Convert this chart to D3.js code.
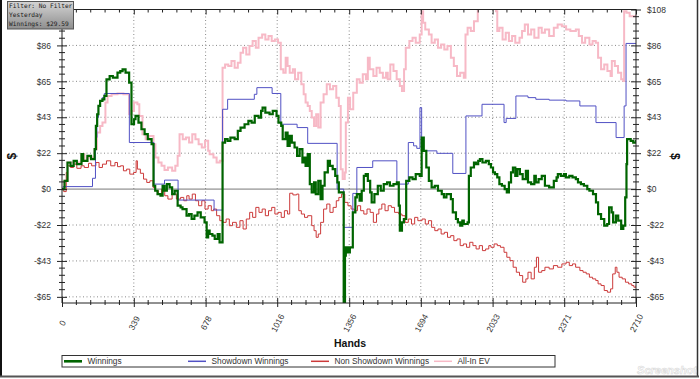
<!DOCTYPE html>
<html><head><meta charset="utf-8">
<script src="https://cdn.jsdelivr.net/npm/d3@7"></script>
<style>body{margin:0;background:#fff}svg{display:block}</style>
</head><body>
<svg id="c" width="700" height="379"></svg>
<script>
// ---- data ----
const xTickValues = [0,339,678,1016,1356,1694,2033,2371,2710];
const xTickLabels = ["0","339","678","1016","1356","1694","2033","2371","2710"];
const yTickValues = [-64.8,-43.2,-21.6,0,21.6,43.2,64.8,86.4,108];
const yTickLabels = ["-$65","-$43","-$22","$0","$22","$43","$65","$86","$108"];
const seriesNames = ["Winnings","Showdown Winnings","Non Showdown Winnings","All-In EV"];
const infoLines = ["Filter: No Filter","Yesterday","Winnings: $29.59"];

const winnings = [[0,0],[12,5],[26,16],[40,14],[55,17],[70,15],[92,21],[100,17],[120,20],[137,18],[154,24],[160,38],[166,45],[172,50],[180,53],[191,54],[200,56],[210,66],[225,68],[240,67],[262,70],[275,71],[286,72],[300,70],[317,64],[328,39],[340,42],[347,44],[361,40],[375,36],[390,33],[405,30],[423,27],[432,2],[440,-1],[451,-3],[465,-4],[475,2],[484,-1],[495,3],[508,1],[520,-3],[532,-1],[546,-10],[560,-11],[569,-12],[588,-16],[600,-15],[612,-18],[625,-16],[640,-14],[655,-17],[673,-20],[683,-29],[690,-25],[697,-27],[710,-28],[721,-30],[735,-27],[744,-32],[758,28],[770,30],[782,29],[795,31],[815,30],[830,35],[843,37],[862,39],[880,41],[895,40],[910,44],[928,43],[940,47],[947,49],[960,46],[980,45],[995,47],[1013,44],[1022,40],[1035,38],[1042,30],[1056,34],[1065,26],[1075,32],[1085,28],[1098,25],[1110,20],[1122,24],[1135,16],[1141,19],[1150,14],[1160,21],[1170,3],[1179,-2],[1190,4],[1198,-3],[1210,5],[1221,-6],[1230,2],[1240,10],[1255,17],[1265,14],[1278,12],[1290,8],[1300,4],[1307,-2],[1326,-2],[1330,-68],[1336,-40],[1340,-35],[1350,-38],[1359,-35],[1373,-14],[1385,-5],[1392,-3],[1405,-7],[1415,-1],[1425,8],[1434,9],[1444,5],[1455,-2],[1462,-8],[1475,-3],[1491,2],[1505,-1],[1519,3],[1535,4],[1548,2],[1565,3],[1581,4],[1590,-10],[1595,-25],[1605,-20],[1614,-18],[1625,5],[1640,7],[1655,6],[1670,9],[1689,8],[1698,31],[1708,23],[1720,13],[1732,5],[1745,1],[1760,2],[1775,-1],[1793,-3],[1803,-5],[1815,-3],[1836,-6],[1845,-14],[1860,-18],[1869,-20],[1880,-22],[1890,-19],[1897,-21],[1915,-20],[1921,8],[1930,13],[1945,16],[1954,15],[1965,17],[1973,18],[1985,16],[2001,17],[2015,15],[2025,13],[2035,10],[2044,9],[2055,7],[2065,3],[2077,2],[2090,0],[2100,-2],[2110,4],[2120,10],[2129,13],[2140,8],[2150,12],[2162,9],[2175,6],[2190,11],[2200,4],[2215,3],[2230,8],[2237,4],[2250,6],[2265,8],[2280,2],[2300,1],[2322,5],[2335,7],[2341,9],[2355,8],[2370,9],[2379,7],[2395,8],[2410,7],[2426,6],[2436,4],[2450,3],[2464,2],[2480,0],[2490,-1],[2507,-3],[2521,-8],[2531,-15],[2545,-18],[2560,-22],[2574,-21],[2583,-11],[2595,-14],[2602,-20],[2615,-16],[2626,-19],[2640,-24],[2650,-22],[2659,-5],[2665,15],[2668,30],[2685,29],[2697,28],[2710,29.59]];

const showdown = [[0,0],[5,1.5],[144,6.5],[158,31],[165,43],[172,50],[180,53],[190,55],[200,57.5],[318,28],[434,3],[484,5.4],[548,-6.6],[718,-12.6],[758,48],[782,54],[908,57],[920,61],[992,57.5],[1033,39],[1110,37],[1160,27.5],[1299,0],[1330,-23],[1373,-2.6],[1392,13],[1467,17],[1581,3],[1635,28],[1660,26],[1675,24.5],[1690,49],[1698,23],[1770,21.5],[1845,9.4],[1907,44],[1983,51],[2087,40],[2097,42.5],[2143,56],[2200,55],[2237,54],[2300,53.5],[2380,53],[2445,50],[2521,40],[2616,31],[2654,50],[2663,87.6],[2710,87.6]];

const nonShowdown = [[0,0],[8,-1.5],[20,10],[26,14],[40,13],[55,15],[70,12.5],[90,14],[105,13],[125,15.5],[140,14],[160,16],[175,13],[191,15],[210,17],[230,14],[250,16],[262,13.5],[276,14],[290,11],[305,12],[320,9],[338,10],[350,17],[356,12],[370,9.5],[385,6],[400,4],[415,5],[430,1],[441,-1],[455,-3],[470,0],[485,-4],[500,-6],[520,-3],[540,-6],[560,-5],[575,-7],[589,-4],[600,-6],[615,-3],[630,-7],[645,-10],[660,-7],[675,-12],[690,-10],[705,-13],[716,-12],[730,-16],[745,-19],[760,-20],[775,-18],[790,-22],[805,-20],[823,-23],[840,-19],[855,-24],[870,-18],[886,-14],[900,-17],[915,-11],[930,-14],[945,-12],[960,-16],[975,-13],[990,-11],[1005,-15],[1020,-14],[1035,-17],[1050,-13],[1065,-15],[1075,-2.5],[1090,-3.5],[1108,-3],[1118,-13],[1130,-15],[1145,-17],[1160,-16],[1179,-22],[1190,-25],[1200,-29],[1210,-27],[1221,-20],[1235,-12],[1250,-9],[1265,-14],[1280,-11],[1295,-7],[1307,-5],[1320,-3],[1335,-8],[1350,-10],[1365,-12],[1380,-13],[1395,-10],[1410,-13],[1425,-15],[1440,-12],[1455,-14],[1470,-20],[1485,-15],[1496,-12],[1510,-9],[1525,-13],[1540,-10],[1555,-11],[1570,-14],[1590,-15],[1605,-16],[1620,-20],[1635,-18],[1650,-21],[1665,-17],[1680,-19],[1700,-18],[1715,-21],[1730,-19],[1745,-23],[1760,-25],[1775,-24],[1790,-27],[1805,-26],[1820,-29],[1835,-28],[1850,-31],[1865,-30],[1880,-34],[1895,-33],[1910,-35],[1925,-32],[1940,-34],[1955,-36],[1970,-34],[1985,-37],[2000,-36],[2015,-34],[2025,-35],[2040,-33],[2055,-34],[2070,-35],[2087,-38],[2100,-41],[2115,-43],[2130,-47],[2145,-50],[2160,-52],[2175,-56],[2190,-54],[2200,-50],[2215,-54],[2230,-47],[2240,-41],[2250,-50],[2265,-49],[2280,-47],[2300,-48],[2320,-46],[2340,-47],[2360,-45],[2380,-44],[2395,-46],[2410,-45],[2425,-47],[2445,-49],[2460,-50],[2475,-51],[2490,-53],[2505,-54],[2520,-55],[2531,-57],[2545,-58],[2560,-61],[2575,-62],[2590,-60],[2600,-51],[2612,-47],[2620,-50],[2630,-53],[2645,-54],[2660,-56],[2675,-57],[2690,-58],[2700,-59],[2710,-58]];

const allInEV = [[0,0],[12,5],[26,16],[92,21],[106,17],[120,19],[154,24],[165,34],[180,38],[191,40],[205,52],[215,56],[234,57],[262,57.5],[290,57],[317,45],[328,47],[340,52],[356,51],[365,44],[380,33],[395,30],[410,32],[432,27],[441,19],[455,16],[470,14],[484,11.5],[500,13],[520,11],[535,14],[546,20],[555,33],[570,30],[585,31],[600,28],[615,33],[630,30],[645,27],[660,25],[675,29],[690,23],[697,21],[715,19],[730,16],[745,17],[758,73],[770,75],[785,74],[800,77],[815,73],[830,76],[843,82],[855,85],[870,81],[885,86],[900,89],[915,85],[928,91],[945,93],[960,90],[975,92],[990,89],[1005,90],[1020,88],[1033,72],[1045,70],[1056,79],[1065,74],[1075,70],[1090,72],[1100,66],[1115,70],[1130,63],[1141,57],[1150,52],[1160,50],[1170,47],[1179,43],[1190,38],[1200,45],[1210,37],[1221,52],[1235,57],[1250,63],[1265,60],[1280,62],[1295,55],[1307,50],[1316,12],[1325,6],[1335,10],[1340,40],[1350,55],[1360,48],[1375,58],[1392,66],[1405,64],[1420,69],[1435,66],[1444,79],[1453,72],[1470,68],[1485,73],[1500,70],[1515,67],[1530,70],[1538,66],[1550,75],[1565,71],[1580,66],[1595,62],[1605,59],[1615,72],[1623,85],[1640,89],[1655,91],[1670,88],[1689,93],[1698,107],[1705,100],[1715,96],[1732,93],[1745,88],[1760,90],[1775,85],[1790,87],[1805,84],[1820,86],[1836,79],[1850,74],[1865,68],[1880,70],[1897,67],[1905,93],[1915,97],[1930,95],[1945,101],[1963,109],[2000,109],[2049,107],[2055,95],[2065,97],[2080,90],[2095,94],[2110,89],[2125,92],[2140,88],[2160,91],[2172,95],[2185,99],[2200,93],[2215,96],[2230,91],[2250,97],[2265,94],[2280,96],[2300,92],[2322,97],[2340,99],[2360,98],[2380,96],[2400,95],[2426,96],[2440,92],[2455,88],[2470,91],[2490,87],[2505,89],[2520,88],[2531,79],[2545,72],[2560,75],[2575,71],[2590,68],[2596,77],[2610,74],[2625,70],[2640,66],[2650,65],[2654,107],[2665,106],[2680,104],[2695,104],[2710,105]];

// ---- layout ----
const svg = d3.select("#c");
const L = 62, R = 636, T = 9.5, B = 303;
const x = d3.scaleLinear().domain([0, 2710]).range([L, R]);
const y = d3.scaleLinear().domain([-68.5, 108]).range([B, T]);
const font = "'Liberation Sans', Arial, sans-serif";

svg.append("rect").attr("width",700).attr("height",379).attr("fill","#fff");

const grid = svg.append("g");
yTickValues.filter(v => v !== 0).forEach(v => {
  grid.append("line").attr("x1",L).attr("x2",R).attr("y1",y(v)).attr("y2",y(v))
    .attr("stroke","#8a8a8a").attr("stroke-width",1).attr("stroke-dasharray","1,2.5");
});
xTickValues.slice(1,-1).forEach(v => {
  grid.append("line").attr("x1",x(v)).attr("x2",x(v)).attr("y1",T).attr("y2",B)
    .attr("stroke","#8a8a8a").attr("stroke-width",1).attr("stroke-dasharray","1,2.5");
});
svg.append("line").attr("x1",L).attr("x2",R).attr("y1",y(0)).attr("y2",y(0))
  .attr("stroke","#777").attr("stroke-width",1);

svg.append("clipPath").attr("id","clip").append("rect").attr("x",L).attr("y",T).attr("width",R-L).attr("height",B-T);
const line = d3.line().x(d => x(d[0])).y(d => y(d[1])).curve(d3.curveStepAfter);
const colors = ["#006400","#5151c4","#cc3a3a","#f7b9c6"];
const widths = [2.2,1,1,2];
const data = [winnings, showdown, nonShowdown, allInEV];
const sg = svg.append("g").attr("clip-path","url(#clip)");
[3,2,1,0].forEach(i => {
  sg.append("path").datum(data[i]).attr("d", line).attr("fill","none")
    .attr("stroke", colors[i]).attr("stroke-width", widths[i]).attr("stroke-linejoin","miter");
});

function minors(vals, n) {
  const out = [];
  for (let i = 0; i < vals.length - 1; i++)
    for (let k = 1; k < n; k++) out.push(vals[i] + (vals[i+1]-vals[i]) * k / n);
  return out;
}
const yMinor = minors(yTickValues, 5).concat([-64.8 - 21.6/5]).filter(v => v > -68.5);
const xMinor = minors(xTickValues, 5);

const axisColor = "#222";
// left axis: the top label is hidden behind the info box in the reference
const gl = svg.append("g").attr("transform",`translate(${L},0)`)
  .call(d3.axisLeft(y).tickValues(yTickValues).tickFormat((d,i)=> i === yTickValues.length-1 ? "" : yTickLabels[i]).tickSize(5).tickPadding(6));
gl.selectAll(".tick line").attr("x1",5).attr("x2",-5);
gl.select(".domain").attr("d",`M0,${T}V${B}`);
const gr = svg.append("g").attr("transform",`translate(${R},0)`)
  .call(d3.axisRight(y).tickValues(yTickValues).tickFormat((d,i)=>yTickLabels[i]).tickSize(5).tickPadding(6));
gr.selectAll(".tick line").attr("x1",-5).attr("x2",5);
gr.select(".domain").attr("d",`M0,${T}V${B}`);
const gb = svg.append("g").attr("transform",`translate(0,${B})`)
  .call(d3.axisBottom(x).tickValues(xTickValues).tickFormat((d,i)=>xTickLabels[i]).tickSize(5));
gb.selectAll(".tick line").attr("y1",-5).attr("y2",4);
gb.select(".domain").attr("d",`M${L},0H${R}`);
gb.selectAll(".tick text").attr("y",0).attr("dy","0.35em").attr("text-anchor","middle")
  .attr("transform","translate(0,20) rotate(-62)");
const gt = svg.append("g").attr("transform",`translate(0,${T})`)
  .call(d3.axisTop(x).tickValues(xTickValues).tickFormat("").tickSize(5));
gt.selectAll(".tick line").attr("y1",0).attr("y2",5);
gt.selectAll(".tick text").remove();
gt.select(".domain").attr("d",`M${L},0H${R}`);

[gl,gr,gb,gt].forEach(g => {
  g.select(".domain").attr("stroke",axisColor).attr("stroke-width",1);
  g.selectAll(".tick line").attr("stroke",axisColor);
  g.selectAll(".tick text").attr("fill","#333").style("font-family",font).style("font-size","8.5px");
});
gl.selectAll(".tick text").filter(function(){ return this.textContent === ""; }).remove();

const mt = svg.append("g").attr("stroke",axisColor).attr("stroke-width",1);
yMinor.forEach(v => {
  mt.append("line").attr("x1",L-3).attr("x2",L+3).attr("y1",y(v)).attr("y2",y(v));
  mt.append("line").attr("x1",R-3).attr("x2",R+3).attr("y1",y(v)).attr("y2",y(v));
});
xMinor.forEach(v => {
  mt.append("line").attr("x1",x(v)).attr("x2",x(v)).attr("y1",B-3).attr("y2",B+2);
  mt.append("line").attr("x1",x(v)).attr("x2",x(v)).attr("y1",T).attr("y2",T+3);
});

svg.append("text").attr("x",(L+R)/2+1).attr("y",347).attr("text-anchor","middle")
  .style("font-family",font).style("font-size","10.5px").style("font-weight","bold").attr("fill","#111").text("Hands");
svg.append("text").attr("transform",`translate(16,${(T+B)/2}) rotate(-90)`).attr("text-anchor","middle")
  .style("font-family",font).style("font-size","12px").style("font-weight","bold").attr("fill","#111").text("$");
svg.append("text").attr("transform",`translate(671,${(T+B)/2}) rotate(90)`).attr("text-anchor","middle")
  .style("font-family",font).style("font-size","12px").style("font-weight","bold").attr("fill","#111").text("$");

const lg = svg.append("g");
lg.append("rect").attr("x",62).attr("y",355.5).attr("width",493).attr("height",11.5)
  .attr("fill","#fff").attr("stroke","#333").attr("stroke-width",1);
const legX = [64, 188, 311, 434];
seriesNames.forEach((n,i) => {
  lg.append("line").attr("x1",legX[i]).attr("x2",legX[i]+18).attr("y1",361.3).attr("y2",361.3)
    .attr("stroke",colors[i]).attr("stroke-width", i===0 ? 2.6 : 1.5);
  lg.append("text").attr("x",legX[i]+23.5).attr("y",364.3)
    .style("font-family",font).style("font-size","8.3px").attr("fill","#333").text(n);
});

const defs = svg.append("defs");
const gradient = defs.append("linearGradient").attr("id","ib").attr("x1",0).attr("y1",0).attr("x2",0).attr("y2",1);
gradient.append("stop").attr("offset","0%").attr("stop-color","#d4d4d4");
gradient.append("stop").attr("offset","100%").attr("stop-color","#8e8e8e");
svg.append("rect").attr("x",7.5).attr("y",1.5).attr("width",66).attr("height",27.5)
  .attr("fill","url(#ib)").attr("stroke","#555").attr("stroke-width",1);
infoLines.forEach((t,i) => {
  svg.append("text").attr("x",9).attr("y",8 + i*9)
    .style("font-family","'DejaVu Sans Mono', monospace").style("font-size","6.2px").attr("fill","#1a1a1a").text(t);
});

svg.append("text").attr("x",697).attr("y",374).attr("text-anchor","end")
  .style("font-family",font).style("font-size","11px").style("font-style","italic").style("font-weight","bold")
  .attr("fill","none").attr("stroke","#d8d8d8").attr("stroke-width",0.6).text("Screenshot");

svg.append("line").attr("x1",1).attr("x2",1).attr("y1",0).attr("y2",377).attr("stroke","#111").attr("stroke-width",2);
svg.append("line").attr("x1",697.5).attr("x2",697.5).attr("y1",0).attr("y2",377).attr("stroke","#333").attr("stroke-width",1.5);
svg.append("line").attr("x1",0).attr("x2",699).attr("y1",376.5).attr("y2",376.5).attr("stroke","#555").attr("stroke-width",2);
</script>
</body></html>
